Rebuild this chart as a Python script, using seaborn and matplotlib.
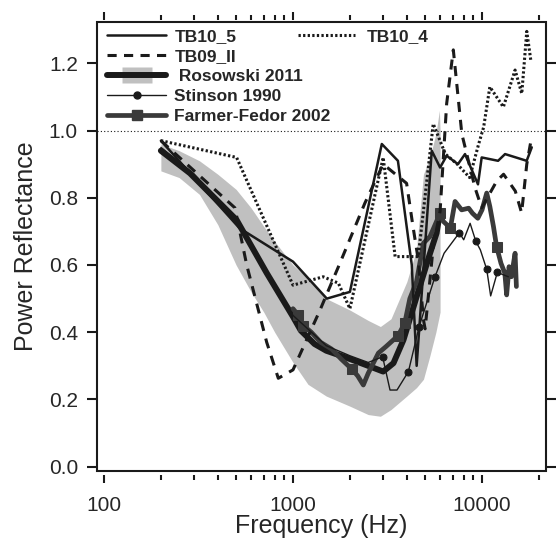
import numpy as np
import seaborn as sns
import matplotlib
matplotlib.use('Agg')
import matplotlib.pyplot as plt
from matplotlib.lines import Line2D
from matplotlib.patches import Rectangle
from matplotlib.legend_handler import HandlerTuple
from matplotlib.ticker import LogLocator, NullFormatter, FuncFormatter, MultipleLocator

# TB10_5 (solid)
f_tb105 = [200, 520, 1000, 1510, 2000, 2950, 3590, 4250, 4510, 5420, 6000, 6500,
           7460, 8130, 9520, 9960, 12160, 13240, 17230, 18330]
r_tb105 = [0.97, 0.71, 0.61, 0.50, 0.52, 0.96, 0.91, 0.60, 0.30, 0.94, 0.89, 0.925,
           0.90, 0.93, 0.84, 0.92, 0.91, 0.93, 0.91, 0.95]

# TB10_4 (dotted)
f_tb104 = [200, 503, 1000, 1445, 1738, 2000, 3000, 3470, 4600, 5520, 6400, 7400,
           8600, 9600, 10200, 11000, 12970, 14960, 16230, 17250, 18160]
r_tb104 = [0.97, 0.92, 0.54, 0.565, 0.546, 0.47, 0.92, 0.625, 0.625, 1.02, 0.93, 0.90,
           0.86, 0.96, 1.01, 1.13, 1.07, 1.18, 1.11, 1.295, 1.205]

# TB09_II (dashed)
f_tb09 = [200, 493, 569, 726, 836, 1000, 1390, 1770, 2400, 3000, 3990, 4315, 4600,
          4900, 5000, 5520, 6000, 6500, 7050, 7820, 9180, 9960, 11970, 13000, 15000,
          16200, 17250, 18290]
r_tb09 = [0.97, 0.77, 0.60, 0.37, 0.263, 0.288, 0.466, 0.605, 0.784, 0.90, 0.843, 0.714,
          0.615, 0.437, 0.41, 0.655, 0.76, 1.08, 1.24, 0.99, 0.83, 0.77, 0.85, 0.87, 0.82,
          0.755, 0.90, 0.98]

# Rosowski 2011 mean and +/- band
f_ros = [200, 285, 503, 726, 1000, 1100, 1300, 1500, 1900, 2500, 3000, 3400, 3840,
         4510, 5310, 5750, 6000]
r_ros = [0.94, 0.873, 0.734, 0.576, 0.446, 0.405, 0.365, 0.345, 0.325, 0.30, 0.283,
         0.308, 0.377, 0.506, 0.635, 0.695, 0.76]
f_band = [200, 250, 320, 400, 500, 600, 700, 800, 1000, 1200, 1500, 2000, 2500, 2900,
          3300, 4000, 4500, 4900, 5300, 5700, 5950, 6000]
lo_band = [0.88, 0.86, 0.81, 0.72, 0.60, 0.52, 0.46, 0.40, 0.31, 0.245, 0.21, 0.18,
           0.155, 0.15, 0.17, 0.21, 0.235, 0.26, 0.33, 0.40, 0.45, 0.46]
hi_band = [0.96, 0.94, 0.91, 0.87, 0.825, 0.77, 0.715, 0.67, 0.60, 0.56, 0.50, 0.466,
           0.435, 0.417, 0.44, 0.55, 0.645, 0.87, 0.92, 0.99, 1.06, 1.0]

# Stinson 1990
f_stin = [200, 300, 500, 700, 1000, 1500, 2000, 2500, 2980, 3260, 3550, 4080, 4650,
          5630, 6300, 7590, 8000, 8650, 9280, 9800, 10590, 11110, 12050, 13780]
r_stin = [0.95, 0.87, 0.73, 0.59, 0.45, 0.36, 0.33, 0.31, 0.327, 0.228, 0.228, 0.283,
          0.417, 0.564, 0.635, 0.696, 0.675, 0.724, 0.67, 0.645, 0.587, 0.508, 0.578, 0.565]
stin_marks = [8, 11, 12, 13, 15, 18, 20, 22]

# Farmer-Fedor 2002
f_ff = [1000, 1067, 1135, 1250, 1400, 1600, 1800, 2050, 2200, 2355, 2500, 2830, 3100,
        3600, 3900, 4150, 4500, 4900, 5310, 6000, 6235, 6800, 7050, 7200, 7800, 8500,
        8900, 9500, 10000, 10590, 11000, 11500, 11940, 12600, 13200, 13500, 13900,
        14300, 14960, 15200]
r_ff = [0.47, 0.45, 0.42, 0.40, 0.37, 0.35, 0.32, 0.29, 0.27, 0.243, 0.278, 0.338, 0.357,
        0.39, 0.427, 0.50, 0.55, 0.665, 0.685, 0.754, 0.73, 0.71, 0.76, 0.789, 0.764, 0.769,
        0.754, 0.739, 0.764, 0.814, 0.774, 0.714, 0.655, 0.605, 0.576, 0.511, 0.595,
        0.565, 0.635, 0.536]
ff_marks = [1, 2, 7, 13, 14, 19, 21, 32]

sns.set_theme(style='ticks')
plt.rcParams['font.family'] = ['Liberation Sans', 'DejaVu Sans']

BAND = '#c0c0c0'
DARK = '#3a3a3a'

fig = plt.figure(figsize=(5.56, 5.39), dpi=100)
ax = fig.add_axes([0.1739, 0.1267, 0.8081, 0.8319])

ax.fill_between(f_band, lo_band, hi_band, color=BAND, lw=0, zorder=1)
ax.axhline(1.0, color='k', lw=0.8, ls=(0, (1, 2)), zorder=2)

sns.lineplot(x=f_ros, y=r_ros, color='k', lw=4.3, estimator=None, sort=False, ax=ax, zorder=3)
sns.lineplot(x=f_ff, y=r_ff, color=DARK, lw=3.4, marker='s', ms=7.5, mec=DARK, mfc=DARK,
             markevery=ff_marks, estimator=None, sort=False, ax=ax, zorder=4)
sns.lineplot(x=f_stin, y=r_stin, color='k', lw=1.0, marker='o', ms=5, mec='k', mfc='k',
             markevery=stin_marks, estimator=None, sort=False, ax=ax, zorder=5)
sns.lineplot(x=f_tb105, y=r_tb105, color='k', lw=1.8, estimator=None, sort=False, ax=ax, zorder=6)
sns.lineplot(x=f_tb104, y=r_tb104, color='k', lw=2.2, ls=(0, (0.75, 0.75)),
             estimator=None, sort=False, ax=ax, zorder=6)
sns.lineplot(x=f_tb09, y=r_tb09, color='k', lw=2.2, ls=(0, (3.3, 2.6)),
             estimator=None, sort=False, ax=ax, zorder=6)

ax.set_xscale('log')
ax.set_xlim(91.5, 21800)
ax.set_ylim(-0.012, 1.322)

ax.xaxis.set_major_locator(LogLocator(base=10, numticks=10))
ax.xaxis.set_minor_locator(LogLocator(base=10, subs=np.arange(2, 10), numticks=30))
ax.xaxis.set_major_formatter(FuncFormatter(lambda v, p: f'{v:g}'))
ax.xaxis.set_minor_formatter(NullFormatter())
ax.yaxis.set_major_locator(MultipleLocator(0.2))
ax.yaxis.set_major_formatter(FuncFormatter(lambda v, p: f'{v:.1f}'))

for s in ax.spines.values():
    s.set_color('none')
ax.spines['bottom'].set_position(('outward', 3))
ax.spines['top'].set_position(('outward', 2))
ax.add_patch(Rectangle((0, 0), 1, 1, transform=ax.transAxes, fill=False, ec='k',
                       lw=1.5, clip_on=False, zorder=10))

ax.tick_params(axis='x', which='major', direction='out', length=6, width=1.5,
               top=True, bottom=True, labelsize=15, pad=9.5, color='k')
ax.tick_params(axis='x', which='minor', direction='out', length=3.5, width=1.5,
               top=True, bottom=True, color='k')
ax.tick_params(axis='y', which='major', direction='out', length=7, width=1.5,
               left=True, right=True, labelsize=15, pad=6.5, color='k')
ax.tick_params(axis='y', which='minor', left=False, right=False)

ax.set_xlabel('Frequency (Hz)', fontsize=18, labelpad=-1)
ax.set_ylabel('Power Reflectance', fontsize=18, labelpad=8)

# legends
rect = [(-1, -0.55), (1, -0.55), (1, 0.55), (-1, 0.55)]
h_tb105 = Line2D([], [], color='k', lw=1.8)
h_tb09 = Line2D([], [], color='k', lw=2.2, ls=(0, (3.0, 2.4)))
h_ros = (Line2D([], [], marker=rect, ms=22, mfc=BAND, mec='none', ls='none'),
         Line2D([], [], color='k', lw=4.3))
h_stin = Line2D([], [], color='k', lw=1.0, marker='o', ms=5)
h_ff = Line2D([], [], color=DARK, lw=3.4, marker='s', ms=7.5)
h_tb104 = Line2D([], [], color='k', lw=2.2, ls=(0, (0.75, 0.75)))

leg_prop = dict(family='Liberation Sans', weight='bold', size=12.5)
leg1 = ax.legend([h_tb105, h_tb09, h_ros, h_stin, h_ff],
                 ['TB10_5', 'TB09_II', ' Rosowski 2011', 'Stinson 1990', 'Farmer-Fedor 2002'],
                 loc='upper left', bbox_to_anchor=(0.022, 0.986), frameon=False,
                 prop=leg_prop, handlelength=3.45, handletextpad=0.45, labelspacing=0.28,
                 borderpad=0, borderaxespad=0, numpoints=1,
                 handler_map={tuple: HandlerTuple(ndivide=1, pad=0)})
ax.add_artist(leg1)
ax.legend([h_tb104], ['TB10_4'], loc='upper left', bbox_to_anchor=(0.448, 0.986),
          frameon=False, prop=leg_prop, handlelength=3.3, handletextpad=0.65,
          borderpad=0, borderaxespad=0)

fig.savefig('out.png', dpi=100)
